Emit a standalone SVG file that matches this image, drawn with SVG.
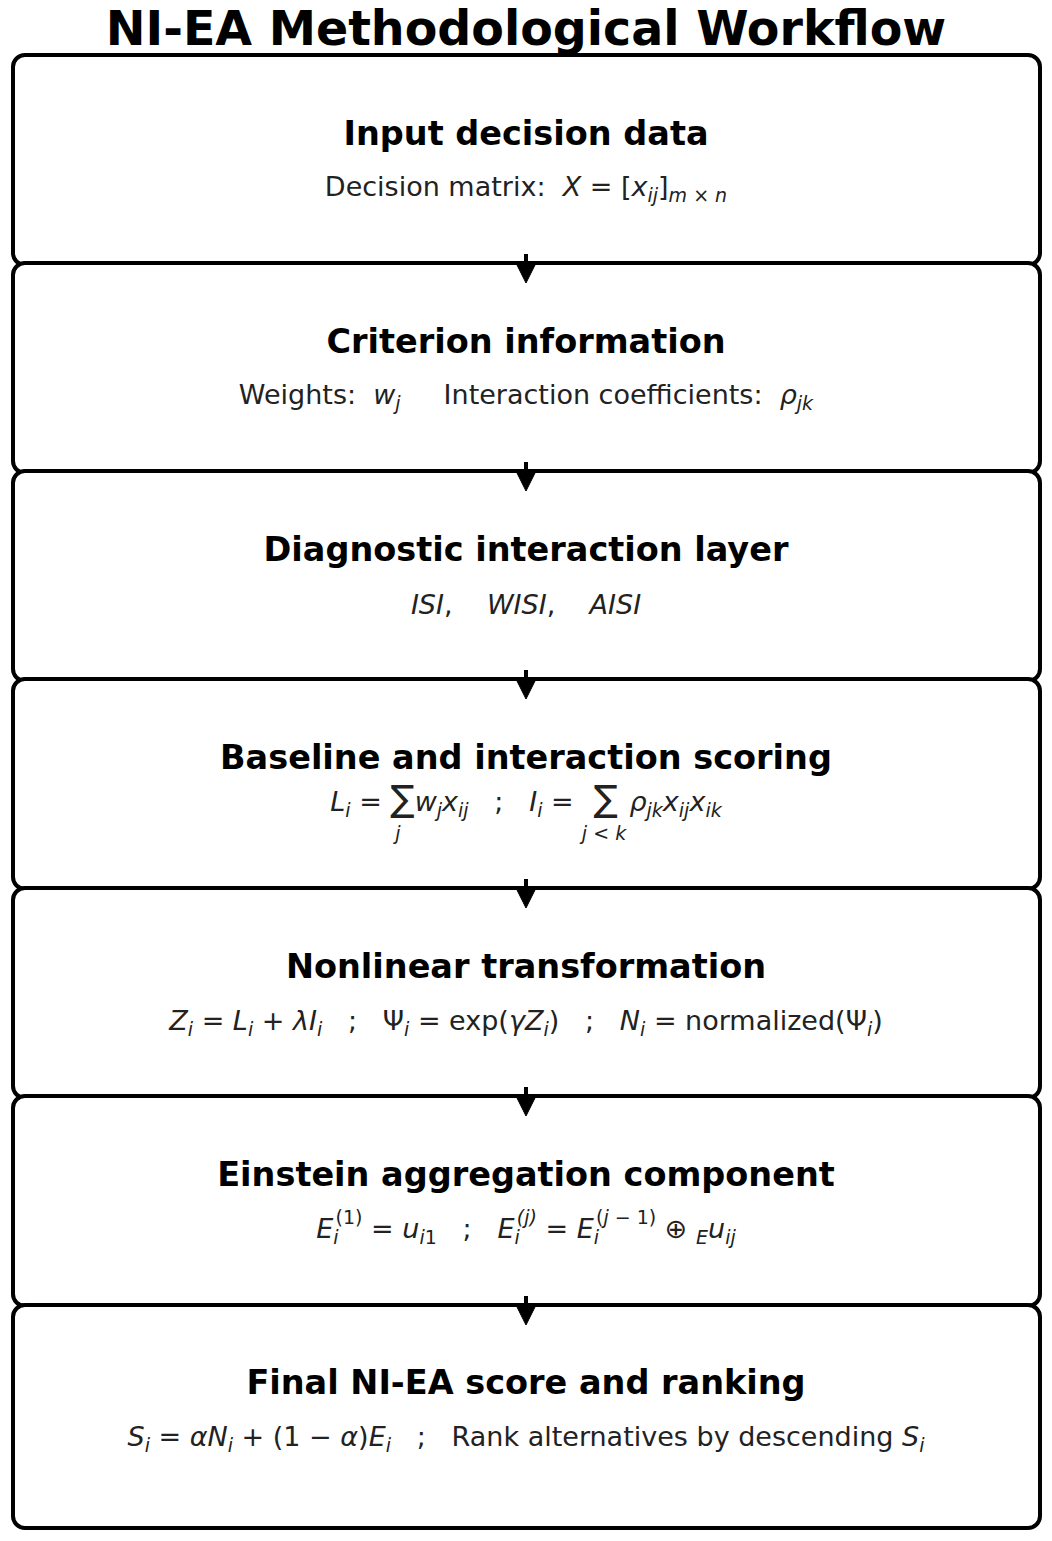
<svg xmlns="http://www.w3.org/2000/svg" width="1052" height="1541" viewBox="0 0 1052 1541">
<style>
.box{fill:#fff;stroke:#000;stroke-width:4}
.t{font-family:"DejaVu Sans",sans-serif;font-weight:bold;font-size:33.5px;text-anchor:middle}
.f{font-family:"DejaVu Sans",sans-serif;font-size:27px;text-anchor:middle;fill:#222;white-space:pre}
.i{font-style:italic}
.s{font-size:19px}
</style>
<rect width="1052" height="1541" fill="#fff"/>
<text x="526" y="45" font-family="DejaVu Sans,sans-serif" font-weight="bold" font-size="47.5" text-anchor="middle">NI-EA Methodological Workflow</text>
<g id="n1"><rect class="box" x="13" y="55" width="1027" height="210" rx="12"/>
<text class="t" x="526" y="145">Input decision data</text>
<text class="f" x="526" y="196" xml:space="preserve">Decision matrix:  <tspan class="i">X</tspan> = [<tspan class="i">x</tspan><tspan class="i s" dy="6">ij</tspan><tspan dy="-6">]</tspan><tspan class="i s" dy="6">m × n</tspan></text></g>
<g id="n2"><rect class="box" x="13" y="263" width="1027" height="210" rx="12"/>
<text class="t" x="526" y="353">Criterion information</text>
<text class="f" x="526" y="404" xml:space="preserve">Weights:  <tspan class="i">w</tspan><tspan class="i s" dy="6">j</tspan><tspan dy="-6">     Interaction coefficients:  </tspan><tspan class="i">ρ</tspan><tspan class="i s" dy="6">jk</tspan></text></g>
<g id="n3"><rect class="box" x="13" y="471" width="1027" height="210" rx="12"/>
<text class="t" x="526" y="561">Diagnostic interaction layer</text>
<text class="f" x="526" y="614" xml:space="preserve"><tspan class="i">ISI</tspan>,    <tspan class="i">WISI</tspan>,    <tspan class="i">AISI</tspan></text></g>
<g id="n4"><rect class="box" x="13" y="679" width="1027" height="210" rx="12"/>
<text class="t" x="526" y="769">Baseline and interaction scoring</text>
<text class="f" x="526" y="811" xml:space="preserve"><tspan class="i">L</tspan><tspan class="i s" dy="6">i</tspan><tspan dy="-6"> = </tspan><tspan font-size="36">∑</tspan><tspan class="i">w</tspan><tspan class="i s" dy="6">j</tspan><tspan class="i" dy="-6">x</tspan><tspan class="i s" dy="6">ij</tspan><tspan dy="-6">   ;   </tspan><tspan class="i">I</tspan><tspan class="i s" dy="6">i</tspan><tspan dy="-6"> = </tspan><tspan font-size="36"> ∑ </tspan><tspan class="i">ρ</tspan><tspan class="i s" dy="6">jk</tspan><tspan class="i" dy="-6">x</tspan><tspan class="i s" dy="6">ij</tspan><tspan class="i" dy="-6">x</tspan><tspan class="i s" dy="6">ik</tspan></text>
<text class="f i s" x="398" y="840">j</text><text class="f i s" x="604" y="840">j &lt; k</text></g>
<g id="n5"><rect class="box" x="13" y="888" width="1027" height="210" rx="12"/>
<text class="t" x="526" y="978">Nonlinear transformation</text>
<text class="f" x="526" y="1030" xml:space="preserve"><tspan class="i">Z</tspan><tspan class="i s" dy="6">i</tspan><tspan dy="-6"> = </tspan><tspan class="i">L</tspan><tspan class="i s" dy="6">i</tspan><tspan dy="-6"> + </tspan><tspan class="i">λI</tspan><tspan class="i s" dy="6">i</tspan><tspan dy="-6">   ;   Ψ</tspan><tspan class="i s" dy="6">i</tspan><tspan dy="-6"> = exp(</tspan><tspan class="i">γZ</tspan><tspan class="i s" dy="6">i</tspan><tspan dy="-6">)   ;   </tspan><tspan class="i">N</tspan><tspan class="i s" dy="6">i</tspan><tspan dy="-6"> = normalized(Ψ</tspan><tspan class="i s" dy="6">i</tspan><tspan dy="-6">)</tspan></text></g>
<g id="n6"><rect class="box" x="13" y="1096" width="1027" height="210" rx="12"/>
<text class="t" x="526" y="1186">Einstein aggregation component</text>
<text class="f" x="526" y="1238" xml:space="preserve"><tspan class="i">E</tspan><tspan class="i s" dy="6">i</tspan><tspan class="s" dx="-3" dy="-20">(1)</tspan><tspan dy="14"> = </tspan><tspan class="i">u</tspan><tspan class="s" dy="6"><tspan class="i">i</tspan>1</tspan><tspan dy="-6">   ;   </tspan><tspan class="i">E</tspan><tspan class="i s" dy="6">i</tspan><tspan class="s i" dx="-3" dy="-20">(j)</tspan><tspan dy="14"> = </tspan><tspan class="i">E</tspan><tspan class="i s" dy="6">i</tspan><tspan class="s" dx="-3" dy="-20">(<tspan class="i">j</tspan> − 1)</tspan><tspan dy="14"> ⊕ </tspan><tspan class="i s" dy="6">E</tspan><tspan class="i" dy="-6">u</tspan><tspan class="i s" dy="6">ij</tspan></text></g>
<g id="n7"><rect class="box" x="13" y="1305" width="1027" height="223" rx="12"/>
<text class="t" x="526" y="1394">Final NI-EA score and ranking</text>
<text class="f" x="526" y="1446" xml:space="preserve"><tspan class="i">S</tspan><tspan class="i s" dy="6">i</tspan><tspan dy="-6"> = </tspan><tspan class="i">αN</tspan><tspan class="i s" dy="6">i</tspan><tspan dy="-6"> + (1 − </tspan><tspan class="i">α</tspan><tspan>)</tspan><tspan class="i">E</tspan><tspan class="i s" dy="6">i</tspan><tspan dy="-6">   ;   Rank alternatives by descending </tspan><tspan class="i">S</tspan><tspan class="i s" dy="6">i</tspan></text></g>
<g id="connectors" stroke="#000" stroke-width="4" fill="#000">
<path d="M526,254V266"/><path d="M516,263H536L526,283z" stroke-width="1"/>
<path d="M526,462V474"/><path d="M516,471H536L526,491z" stroke-width="1"/>
<path d="M526,670V682"/><path d="M516,679H536L526,699z" stroke-width="1"/>
<path d="M526,879V891"/><path d="M516,888H536L526,908z" stroke-width="1"/>
<path d="M526,1087V1099"/><path d="M516,1096H536L526,1116z" stroke-width="1"/>
<path d="M526,1296V1308"/><path d="M516,1305H536L526,1325z" stroke-width="1"/>
</g>
</svg>
